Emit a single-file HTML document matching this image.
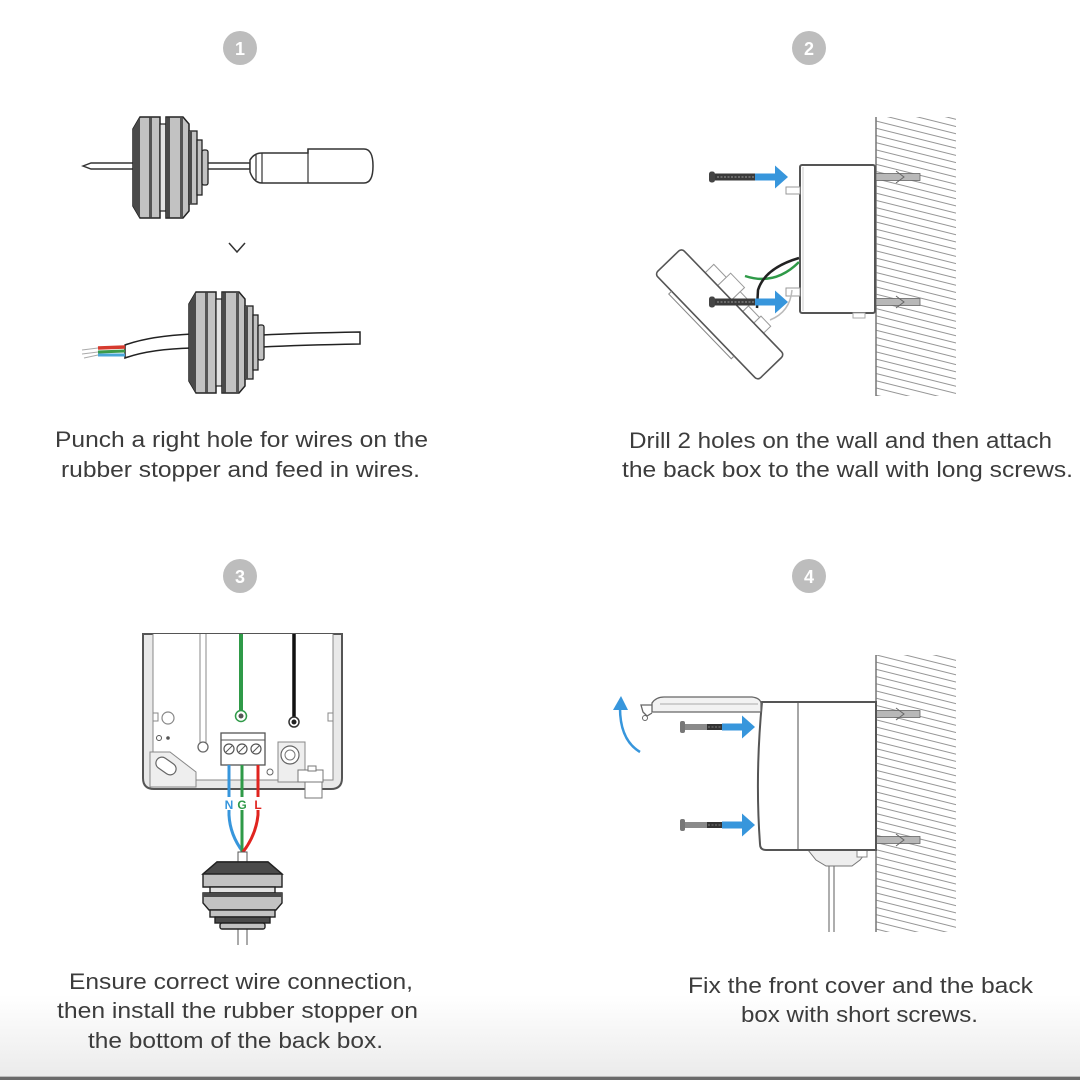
<!DOCTYPE html>
<html><head><meta charset="utf-8"><style>
html,body{margin:0;padding:0;background:#fff;}
svg{display:block;}
text{font-family:"Liberation Sans",Arial,sans-serif;}
</style></head><body>
<svg width="1080" height="1080" viewBox="0 0 1080 1080" xmlns="http://www.w3.org/2000/svg">
<defs>
  <linearGradient id="bot" x1="0" y1="0" x2="0" y2="1">
    <stop offset="0" stop-color="#ffffff"/>
    <stop offset="1" stop-color="#ebebeb"/>
  </linearGradient>
  <pattern id="hatch" patternUnits="userSpaceOnUse" width="12" height="7" patternTransform="rotate(14)">
    <line x1="0" y1="3.5" x2="12" y2="3.5" stroke="#8a8a8a" stroke-width="0.9"/>
  </pattern>
  <g id="stopV">
    <polygon points="0,12 7,0 27,0 27,101 7,101 0,89" fill="#c2c2c2" stroke="#222" stroke-width="1.5"/>
    <polygon points="0,12 7,0 7,101 0,89" fill="#4a4a4a"/>
    <rect x="16" y="0.5" width="3" height="100" fill="#555"/>
    <rect x="27" y="7" width="6" height="87" fill="#e2e2e2" stroke="#222" stroke-width="1.2"/>
    <polygon points="33,0 50,0 56,7 56,94 50,101 33,101" fill="#c2c2c2" stroke="#222" stroke-width="1.5"/>
    <rect x="33" y="0.5" width="4" height="100" fill="#4a4a4a"/>
    <rect x="47" y="1" width="3" height="99" fill="#555"/>
    <rect x="56" y="14" width="8" height="73" fill="#c2c2c2" stroke="#222" stroke-width="1.3"/>
    <rect x="56" y="14" width="3" height="73" fill="#4a4a4a"/>
    <rect x="64" y="23" width="5" height="55" fill="#c2c2c2" stroke="#222" stroke-width="1.3"/>
    <rect x="69" y="33" width="6" height="35" rx="2" fill="#c2c2c2" stroke="#222" stroke-width="1.3"/>
  </g>
  <g id="screwD">
    <rect x="0" y="-5.5" width="6" height="11" rx="2.5" fill="#444"/>
    <rect x="6" y="-3.5" width="42" height="7" fill="#3a3a3a"/>
    <line x1="8" y1="0" x2="46" y2="0" stroke="#888" stroke-width="1.2" stroke-dasharray="2 1.5"/>
  </g>
  <g id="screwL">
    <rect x="0" y="-6" width="5" height="12" rx="2" fill="#777"/>
    <rect x="5" y="-3" width="22" height="6" fill="#8a8a8a"/>
    <rect x="27" y="-3" width="23" height="6" fill="#333"/>
    <line x1="28" y1="0" x2="49" y2="0" stroke="#777" stroke-width="1" stroke-dasharray="2 1.5"/>
  </g>
  <g id="arrowB">
    <rect x="0" y="-3.5" width="22" height="7" fill="#3796dc"/>
    <polygon points="20,-11.5 33,0 20,11.5" fill="#3796dc"/>
  </g>
  <g id="anchor">
    <rect x="0" y="-3.5" width="44" height="7" fill="#b8b8b8" stroke="#666" stroke-width="0.8"/>
    <polyline points="20,-6 28,0 20,6" fill="none" stroke="#666" stroke-width="1"/>
  </g>
</defs>

<rect x="0" y="0" width="1080" height="1080" fill="#fff"/>
<rect x="0" y="995" width="1080" height="82" fill="url(#bot)"/>
<rect x="0" y="1076" width="1080" height="1" fill="#bdbdbd"/>
<rect x="0" y="1077" width="1080" height="3" fill="#6a6a6a"/>

<!-- number badges -->
<g font-weight="bold" font-size="18" fill="#fff" text-anchor="middle">
  <circle cx="240" cy="48" r="17" fill="#bdbdbd"/><text x="240" y="55">1</text>
  <circle cx="809" cy="48" r="17" fill="#bdbdbd"/><text x="809" y="55">2</text>
  <circle cx="240" cy="576" r="17" fill="#bdbdbd"/><text x="240" y="583">3</text>
  <circle cx="809" cy="576" r="17" fill="#bdbdbd"/><text x="809" y="583">4</text>
</g>

<!-- ===== PANEL 1 ===== -->
<path d="M83,166 L91,163 L250,163 L250,169 L91,169 Z" fill="#fff" stroke="#333" stroke-width="1.4"/>
<use href="#stopV" x="133" y="117"/>
<path d="M250,160 Q254,153 262,153 L308,153 L308,149 L364,149 Q373,149 373,166 Q373,183 364,183 L308,183 L262,183 Q254,183 250,172 Z" fill="#fff" stroke="#333" stroke-width="1.5"/>
<line x1="256" y1="155" x2="256" y2="180" stroke="#333" stroke-width="1.2"/>
<line x1="262" y1="153" x2="262" y2="183" stroke="#333" stroke-width="1.2"/>
<line x1="308" y1="149" x2="308" y2="183" stroke="#333" stroke-width="1.2"/>
<polyline points="229,243 237,252 245,243" fill="none" stroke="#333" stroke-width="1.5"/>

<!-- bottom cable -->
<path d="M262,335 Q300,333 360,332 L360,344 Q300,345 262,347 Z" fill="#fff" stroke="#222" stroke-width="1.5"/>
<path d="M125,345 Q150,336 192,334 L192,348 Q150,349 125,358 Z" fill="#fff" stroke="#222" stroke-width="1.5"/>
<line x1="98" y1="348" x2="125" y2="347" stroke="#d63a2e" stroke-width="3.5"/>
<line x1="98" y1="352" x2="125" y2="351" stroke="#3a9a4a" stroke-width="3"/>
<line x1="98" y1="355" x2="125" y2="355" stroke="#4aa6d8" stroke-width="3"/>
<line x1="82" y1="350" x2="98" y2="348" stroke="#aaa" stroke-width="1"/>
<line x1="82" y1="354" x2="98" y2="352" stroke="#aaa" stroke-width="1"/>
<line x1="84" y1="358" x2="98" y2="355" stroke="#aaa" stroke-width="1"/>
<use href="#stopV" x="189" y="292"/>

<!-- ===== PANEL 2 ===== -->
<rect x="876" y="117" width="80" height="279" fill="url(#hatch)"/>
<line x1="876" y1="117" x2="876" y2="396" stroke="#777" stroke-width="1.5"/>
<use href="#anchor" x="876" y="177"/>
<use href="#anchor" x="876" y="302"/>
<rect x="800" y="165" width="75" height="148" rx="2" fill="#fff" stroke="#555" stroke-width="2"/>
<line x1="803" y1="167" x2="803" y2="311" stroke="#ccc" stroke-width="1"/>
<rect x="786" y="187" width="14" height="7" fill="#fff" stroke="#999" stroke-width="1"/>
<rect x="786" y="288" width="14" height="8" fill="#fff" stroke="#999" stroke-width="1"/>
<rect x="853" y="313" width="12" height="5" fill="#fff" stroke="#aaa" stroke-width="1"/>
<!-- cover -->
<g transform="translate(720,314) rotate(46)">
  <rect x="-40" y="-30" width="18" height="12" fill="#fff" stroke="#999" stroke-width="1"/>
  <rect x="-22" y="-36" width="20" height="18" fill="#fff" stroke="#999" stroke-width="1"/>
  <rect x="-2" y="-30" width="16" height="12" fill="#fff" stroke="#999" stroke-width="1"/>
  <rect x="14" y="-26" width="16" height="8" fill="#fff" stroke="#999" stroke-width="1"/>
  <rect x="30" y="-28" width="14" height="10" fill="#fff" stroke="#999" stroke-width="1"/>
  <rect x="-74" y="-18" width="148" height="37" rx="4" fill="#fff" stroke="#555" stroke-width="1.6"/>
  <path d="M-50,19 L-50,23 L40,23 L40,19" fill="none" stroke="#888" stroke-width="1"/>
</g>
<path d="M799,262 Q775,286 745,276" fill="none" stroke="#2f9a48" stroke-width="2.5"/>
<path d="M799,258 Q765,268 758,290 L757,308" fill="none" stroke="#222" stroke-width="2.5"/>
<path d="M792,290 Q790,312 770,320" fill="none" stroke="#bbb" stroke-width="1.5"/>
<use href="#screwD" x="709" y="177"/>
<use href="#arrowB" x="755" y="177"/>
<use href="#screwD" x="709" y="302"/>
<use href="#arrowB" x="755" y="302"/>

<!-- ===== PANEL 3 ===== -->
<path d="M143,634 L143,778 Q143,789 154,789 L331,789 Q342,789 342,778 L342,634 Z" fill="#e9e9e9" stroke="#555" stroke-width="2"/>
<path d="M153,634 L153,780 L333,780 L333,634" fill="#fff" stroke="#888" stroke-width="1"/>
<rect x="153" y="713" width="5" height="8" fill="#fff" stroke="#888" stroke-width="1"/>
<rect x="328" y="713" width="5" height="8" fill="#fff" stroke="#888" stroke-width="1"/>
<circle cx="168" cy="718" r="6" fill="#fff" stroke="#888" stroke-width="1.2"/>
<circle cx="159" cy="738" r="2.5" fill="none" stroke="#555" stroke-width="1"/>
<circle cx="168" cy="738" r="1.8" fill="#555"/>
<path d="M150,752 L170,752 L196,772 L196,787 L150,787 Z" fill="#eee" stroke="#888" stroke-width="1"/>
<rect x="155" y="760" width="22" height="12" rx="6" transform="rotate(35 166 766)" fill="#fff" stroke="#666" stroke-width="1.2"/>
<line x1="200" y1="634" x2="200" y2="743" stroke="#888" stroke-width="1"/>
<line x1="206" y1="634" x2="206" y2="743" stroke="#888" stroke-width="1"/>
<circle cx="203" cy="747" r="5" fill="#fff" stroke="#666" stroke-width="1.3"/>
<line x1="241" y1="634" x2="241" y2="711" stroke="#2f9a48" stroke-width="4"/>
<circle cx="241" cy="716" r="5.5" fill="#fff" stroke="#2f9a48" stroke-width="1.5"/>
<circle cx="241" cy="716" r="2.5" fill="#555"/>
<line x1="294" y1="634" x2="294" y2="718" stroke="#111" stroke-width="3.5"/>
<circle cx="294" cy="722" r="5" fill="#fff" stroke="#333" stroke-width="1.5"/>
<circle cx="294" cy="722" r="2.5" fill="#222"/>
<rect x="278" y="742" width="27" height="40" fill="#eee" stroke="#888" stroke-width="1"/>
<circle cx="290" cy="755" r="9" fill="#fff" stroke="#666" stroke-width="1.2"/>
<circle cx="290" cy="755" r="5" fill="#fff" stroke="#777" stroke-width="1"/>
<rect x="298" y="770" width="25" height="12" fill="#fff" stroke="#777" stroke-width="1"/>
<rect x="305" y="782" width="17" height="16" fill="#fff" stroke="#777" stroke-width="1"/>
<rect x="308" y="766" width="8" height="5" fill="#fff" stroke="#777" stroke-width="1"/>
<rect x="221" y="733" width="44" height="32" fill="#fff" stroke="#555" stroke-width="1.3"/>
<line x1="221" y1="740" x2="265" y2="740" stroke="#555" stroke-width="1"/>
<g fill="#fff" stroke="#555" stroke-width="1.2">
  <circle cx="229" cy="749" r="5"/><circle cx="242" cy="749" r="5"/><circle cx="256" cy="749" r="5"/>
</g>
<g stroke="#555" stroke-width="1">
  <line x1="226" y1="752" x2="232" y2="746"/><line x1="239" y1="752" x2="245" y2="746"/><line x1="253" y1="752" x2="259" y2="746"/>
</g>
<circle cx="270" cy="772" r="3" fill="none" stroke="#666" stroke-width="1"/>
<path d="M229,765 L229,815 Q230,835 243,852" fill="none" stroke="#3796dc" stroke-width="3"/>
<path d="M242,765 L242,852" fill="none" stroke="#2f9a48" stroke-width="3"/>
<path d="M258,765 L258,815 Q256,835 243,852" fill="none" stroke="#e0241f" stroke-width="3"/>
<g font-size="12" font-weight="bold" text-anchor="middle">
  <rect x="223" y="797" width="41" height="13" fill="#fff"/>
  <text x="229" y="809" fill="#3796dc">N</text>
  <text x="242" y="809" fill="#2f9a48">G</text>
  <text x="258" y="809" fill="#e0241f">L</text>
</g>
<rect x="238" y="852" width="9" height="14" fill="#fff" stroke="#555" stroke-width="1"/>
<g stroke="#222" stroke-width="1.4">
  <line x1="238" y1="927" x2="238" y2="945" stroke="#555" stroke-width="1"/>
  <line x1="247" y1="927" x2="247" y2="945" stroke="#555" stroke-width="1"/>
  <polygon points="217,862 268,862 282,874 282,887 203,887 203,874" fill="#c2c2c2"/>
  <polygon points="217,862 268,862 282,874 203,874" fill="#4a4a4a"/>
  <rect x="210" y="887" width="65" height="6" fill="#e2e2e2"/>
  <polygon points="203,893 282,893 282,903 276,910 209,910 203,903" fill="#c2c2c2"/>
  <rect x="203" y="893" width="79" height="4" fill="#4a4a4a" stroke="none"/>
  <rect x="210" y="910" width="65" height="7" fill="#c2c2c2"/>
  <rect x="215" y="917" width="55" height="6" fill="#4a4a4a"/>
  <rect x="220" y="923" width="45" height="6" rx="2" fill="#c2c2c2"/>
</g>

<!-- ===== PANEL 4 ===== -->
<rect x="876" y="655" width="80" height="277" fill="url(#hatch)"/>
<line x1="876" y1="655" x2="876" y2="932" stroke="#777" stroke-width="1.5"/>
<use href="#anchor" x="876" y="714"/>
<use href="#anchor" x="876" y="840"/>
<line x1="829" y1="866" x2="829" y2="932" stroke="#777" stroke-width="1.2"/>
<line x1="834" y1="866" x2="834" y2="932" stroke="#777" stroke-width="1.2"/>
<path d="M808,850 L868,850 L860,860 L852,866 L826,866 L816,860 Z" fill="#eee" stroke="#777" stroke-width="1"/>
<rect x="857" y="850" width="10" height="7" fill="#fff" stroke="#888" stroke-width="1"/>
<path d="M762,702 L876,702 L876,850 L766,850 Q760,850 760,844 Q755,776 762,702 Z" fill="#fff" stroke="#555" stroke-width="2"/>
<line x1="798" y1="703" x2="798" y2="849" stroke="#777" stroke-width="1.3"/>
<path d="M652,712 L652,703 Q656,697 664,697 L752,697 Q760,698 761,703 L761,712 Z" fill="#f2f2f2" stroke="#666" stroke-width="1.3"/>
<line x1="660" y1="704" x2="758" y2="704" stroke="#aaa" stroke-width="1"/>
<path d="M652,705 L641,705 L643,712 L647,716 L652,713" fill="none" stroke="#666" stroke-width="1.3"/>
<circle cx="645" cy="718" r="2.5" fill="none" stroke="#666" stroke-width="1"/>
<path d="M640,752 Q620,740 620,708" fill="none" stroke="#3796dc" stroke-width="2.5"/>
<polygon points="613,710 621,696 628,710" fill="#3796dc"/>
<use href="#screwL" x="680" y="727"/>
<use href="#arrowB" x="722" y="727"/>
<use href="#screwL" x="680" y="825"/>
<use href="#arrowB" x="722" y="825"/>

<!-- ===== TEXT ===== -->
<g font-size="22" fill="#3c3c3c">
  <text x="55" y="447" textLength="373" lengthAdjust="spacingAndGlyphs">Punch a right hole for wires on the</text>
  <text x="61" y="477" textLength="359" lengthAdjust="spacingAndGlyphs">rubber stopper and feed in wires.</text>
  <text x="629" y="448" textLength="423" lengthAdjust="spacingAndGlyphs">Drill 2 holes on the wall and then attach</text>
  <text x="622" y="477" textLength="451" lengthAdjust="spacingAndGlyphs">the back box to the wall with long screws.</text>
  <text x="69" y="989" textLength="344" lengthAdjust="spacingAndGlyphs">Ensure correct wire connection,</text>
  <text x="57" y="1018" textLength="361" lengthAdjust="spacingAndGlyphs">then install the rubber stopper on</text>
  <text x="88" y="1048" textLength="295" lengthAdjust="spacingAndGlyphs">the bottom of the back box.</text>
  <text x="688" y="993" textLength="345" lengthAdjust="spacingAndGlyphs">Fix the front cover and the back</text>
  <text x="741" y="1022" textLength="237" lengthAdjust="spacingAndGlyphs">box with short screws.</text>
</g>
</svg>
</body></html>
